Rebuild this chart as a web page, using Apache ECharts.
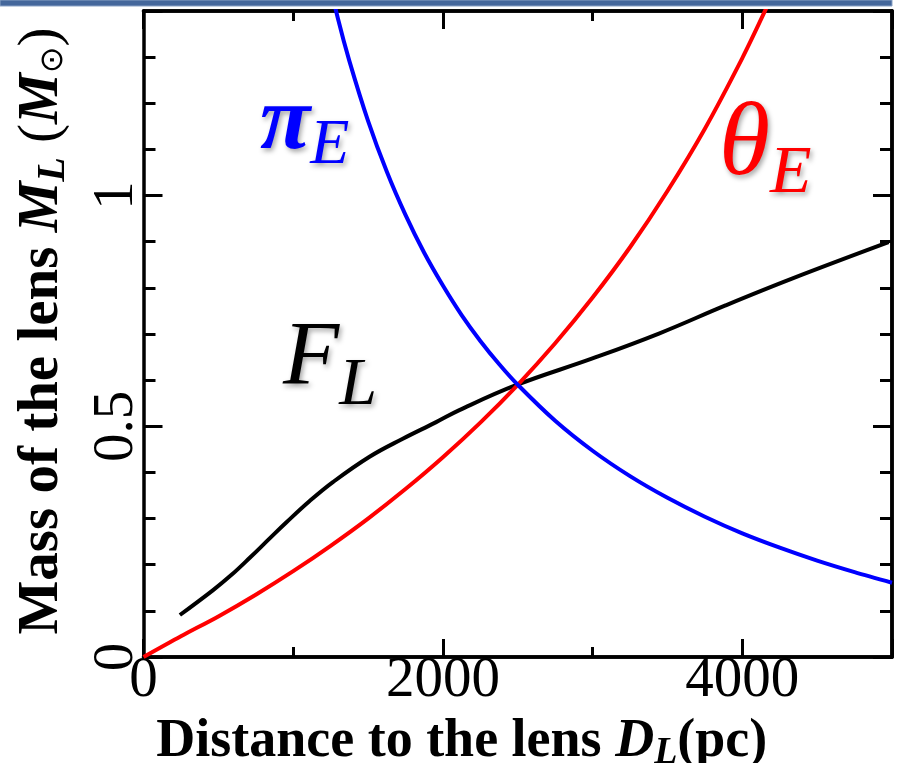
<!DOCTYPE html>
<html>
<head>
<meta charset="utf-8">
<script src="https://cdn.jsdelivr.net/npm/echarts@6/dist/echarts.min.js"></script>
<style>
  html, body { margin: 0; padding: 0; background: #fff; }
  #chart { width: 901px; height: 763px; }
</style>
</head>
<body>
<div id="chart"></div>
<script>
// Lens mass vs. lens distance, constrained by three observables.

// theta_E (Einstein radius) constraint
const thetaD = [0, 250, 500, 750, 1000, 1250, 1500, 1750, 2000, 2250, 2500, 2750, 3000, 3250, 3500, 3750, 4000, 4150, 4250];
const thetaM = [0, 0.045, 0.088, 0.135, 0.186, 0.241, 0.300, 0.364, 0.433, 0.508, 0.590, 0.680, 0.779, 0.888, 1.010, 1.145, 1.298, 1.399, 1.471];

// pi_E (microlens parallax) constraint
const piD = [1200, 1300, 1375, 1500, 1625, 1750, 1875, 2000, 2125, 2250, 2375, 2500, 2750, 3000, 3250, 3500, 3750, 4000, 4250, 4500, 4750, 5000];
const piM = [1.520, 1.382, 1.292, 1.162, 1.052, 0.958, 0.876, 0.805, 0.741, 0.685, 0.635, 0.590, 0.512, 0.447, 0.392, 0.345, 0.304, 0.268, 0.237, 0.209, 0.184, 0.161];

// F_L (lens flux) constraint
const fluxD = [243, 465, 588, 710, 843, 955, 1110, 1265, 1510, 1732, 1955, 2110, 2488, 2999, 3443, 3888, 4332, 4977];
const fluxM = [0.091, 0.145, 0.178, 0.215, 0.257, 0.292, 0.338, 0.379, 0.434, 0.473, 0.509, 0.535, 0.589, 0.647, 0.701, 0.762, 0.820, 0.899];

// axis setup
const xMin = 0, xMax = 5000, xMinorStep = 1000, xMajorStep = 2000;
const yMin = 0, yMax = 1.4, yMinorStep = 0.1, yMajorStep = 0.5;
const xTickLabels = [0, 2000, 4000];
const yTickLabels = [0, 0.5, 1];

const SERIF = "'Liberation Serif', 'Times New Roman', 'DejaVu Serif', serif";

const pairs = (xs, ys) => xs.map((x, i) => [x, ys[i]]);

const chart = echarts.init(document.getElementById('chart'), null, { renderer: 'canvas' });

const tickStyle = { color: '#000', width: 3 };
const axisLineStyle = { show: true, onZero: false, lineStyle: { color: '#000', width: 3.5 } };

function xAxisDef(position, step, len, extra) {
  return Object.assign({
    type: 'value', position, min: xMin, max: xMax, interval: step,
    axisLine: axisLineStyle,
    axisTick: { show: true, inside: true, length: len, lineStyle: tickStyle },
    axisLabel: { show: false },
    splitLine: { show: false }
  }, extra || {});
}
function yAxisDef(position, step, len, extra) {
  return Object.assign({
    type: 'value', position, min: yMin, max: yMax, interval: step,
    axisLine: axisLineStyle,
    axisTick: { show: true, inside: true, length: len, lineStyle: tickStyle },
    axisLabel: { show: false },
    splitLine: { show: false }
  }, extra || {});
}

const subShift = 22;

const option = {
  animation: false,
  backgroundColor: '#ffffff',
  grid: { left: 143.5, right: 9, top: 11, bottom: 106, containLabel: false, outerBoundsMode: 'none' },
  xAxis: [
    xAxisDef('bottom', xMinorStep, 10, {
      axisLabel: {
        show: true, margin: -4, color: '#000', fontFamily: SERIF, fontSize: 57,
        formatter: v => (xTickLabels.indexOf(v) >= 0 ? String(v) : '')
      },
      name: '{b|Distance to the lens }{bi|D}{sub|L}{b|(pc)}',
      nameLocation: 'middle',
      nameGap: 38,
      nameTextStyle: {
        padding: [0, 112, 0, 0],
        rich: {
          b: { fontFamily: SERIF, fontWeight: 'bold', fontSize: 54, color: '#000' },
          bi: { fontFamily: SERIF, fontWeight: 'bold', fontStyle: 'italic', fontSize: 54, color: '#000' },
          sub: { fontFamily: SERIF, fontWeight: 'bold', fontStyle: 'italic', fontSize: 38, color: '#000', padding: [subShift, 0, 0, 0] }
        }
      }
    }),
    xAxisDef('bottom', xMajorStep, 18),
    xAxisDef('top', xMinorStep, 10),
    xAxisDef('top', xMajorStep, 18)
  ],
  yAxis: [
    yAxisDef('left', yMinorStep, 12, {
      name: '{b|Mass of the lens }{bi|M}{sub|L}{r| (}{bi|M}{sun|⊙}{r|)}',
      nameLocation: 'middle',
      nameGap: 70,
      nameTextStyle: {
        padding: [0, 0, 0, 6],
        rich: {
          b: { fontFamily: SERIF, fontWeight: 'bold', fontSize: 57, color: '#000' },
          r: { fontFamily: SERIF, fontSize: 57, color: '#000' },
          bi: { fontFamily: SERIF, fontWeight: 'bold', fontStyle: 'italic', fontSize: 57, color: '#000' },
          sub: { fontFamily: SERIF, fontWeight: 'bold', fontStyle: 'italic', fontSize: 40, color: '#000', padding: [subShift, 0, 0, 0] },
          sun: { fontFamily: "'DejaVu Sans', sans-serif", fontSize: 32, color: '#000', padding: [subShift, 0, 0, 0] }
        }
      }
    }),
    yAxisDef('left', yMajorStep, 19, {
      axisLine: { show: false },
      axisLabel: {
        show: true, rotate: 90, margin: -2, color: '#000', fontFamily: SERIF, fontSize: 57,
        formatter: v => (yTickLabels.some(t => Math.abs(t - v) < 1e-9) ? String(Math.round(v * 10) / 10) : '')
      }
    }),
    yAxisDef('right', yMinorStep, 12),
    yAxisDef('right', yMajorStep, 19)
  ],
  series: [
    {
      name: 'F_L', type: 'line', xAxisIndex: 0, yAxisIndex: 0,
      data: pairs(fluxD, fluxM), showSymbol: false, smooth: 0.4, clip: true,
      lineStyle: { color: '#000000', width: 4 }, z: 3
    },
    {
      name: 'theta_E', type: 'line', xAxisIndex: 0, yAxisIndex: 0,
      data: pairs(thetaD, thetaM), showSymbol: false, smooth: 0.3, clip: true,
      lineStyle: { color: '#ff0000', width: 4 }, z: 4
    },
    {
      name: 'pi_E', type: 'line', xAxisIndex: 0, yAxisIndex: 0,
      data: pairs(piD, piM), showSymbol: false, smooth: 0.3, clip: true,
      lineStyle: { color: '#0000ff', width: 4 }, z: 5
    }
  ],
  graphic: [
    {
      type: 'rect', z: 100,
      shape: { x: 0, y: 0, width: 892, height: 6 },
      style: { fill: '#44679b', stroke: '#8aa3c6', lineWidth: 1 }
    },
    {
      type: 'text', x: 260, y: 70, z: 100,
      style: {
        text: '{a|π}{b|E}',
        textShadowColor: 'rgba(0,0,0,0.35)', textShadowBlur: 5, textShadowOffsetX: 2, textShadowOffsetY: 3,
        rich: {
          a: { fontFamily: SERIF, fontWeight: 'bold', fontStyle: 'italic', fontSize: 92, fill: '#0000ff', color: '#0000ff' },
          b: { fontFamily: SERIF, fontStyle: 'italic', fontSize: 64, fill: '#0000ff', color: '#0000ff', padding: [44, 0, 0, 0] }
        }
      }
    },
    {
      type: 'text', x: 719, y: 86, z: 100,
      style: {
        text: '{a|θ}{b|E}',
        textShadowColor: 'rgba(0,0,0,0.35)', textShadowBlur: 5, textShadowOffsetX: 2, textShadowOffsetY: 3,
        rich: {
          a: { fontFamily: SERIF, fontStyle: 'italic', fontSize: 104, fill: '#ff0000', color: '#ff0000' },
          b: { fontFamily: SERIF, fontStyle: 'italic', fontSize: 68, fill: '#ff0000', color: '#ff0000', padding: [54, 0, 0, 0] }
        }
      }
    },
    {
      type: 'text', x: 283, y: 300, z: 100,
      style: {
        text: '{a|F}{b|L}',
        textShadowColor: 'rgba(0,0,0,0.35)', textShadowBlur: 5, textShadowOffsetX: 2, textShadowOffsetY: 3,
        rich: {
          a: { fontFamily: SERIF, fontStyle: 'italic', fontSize: 92, fill: '#000', color: '#000' },
          b: { fontFamily: SERIF, fontStyle: 'italic', fontSize: 68, fill: '#000', color: '#000', padding: [52, 0, 0, 0] }
        }
      }
    }
  ]
};

chart.setOption(option);
</script>
</body>
</html>
